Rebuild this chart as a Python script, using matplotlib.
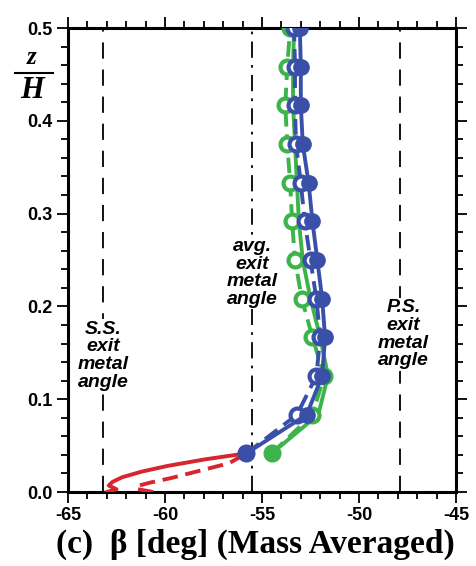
import matplotlib.pyplot as plt
from matplotlib.ticker import MultipleLocator

# span-wise stations z/H
z = [0.0417, 0.0833, 0.125, 0.1667, 0.2083, 0.25, 0.2917, 0.3333, 0.375, 0.4167, 0.4583, 0.5]

blue_solid = [-55.8, -52.7, -51.9, -51.75, -51.9, -52.15, -52.4, -52.6, -52.9, -53.0, -53.0, -53.05]
blue_dash = [-55.8, -53.2, -52.2, -52.0, -52.2, -52.5, -52.8, -53.0, -53.25, -53.3, -53.3, -53.35]
green_solid = [-54.5, -52.1, -51.6, -52.0, -52.5, -52.9, -53.1, -53.2, -53.3, -53.4, -53.4, -53.35]
green_dash = [-54.5, -52.4, -51.8, -52.4, -52.95, -53.3, -53.45, -53.55, -53.7, -53.8, -53.7, -53.55]

# hub region
red_z_solid = [0.0, 0.003, 0.007, 0.011, 0.016, 0.022, 0.028, 0.035, 0.0417]
red_solid = [-63.0, -62.5, -62.9, -62.7, -62.2, -61.2, -59.9, -58.0, -55.8]
red_z_dash = [0.0, 0.003, 0.006, 0.01, 0.015, 0.023, 0.031, 0.0417]
red_dash = [-60.6, -61.4, -61.5, -60.8, -59.7, -58.2, -56.7, -55.8]

ss_angle = -63.2
avg_angle = -55.5
ps_angle = -47.9

BLUE = "#3a4fa8"
GREEN = "#3cb44a"
RED = "#d7262e"

plt.rcParams["font.family"] = ["Liberation Sans", "DejaVu Sans"]
plt.rcParams["axes.unicode_minus"] = False
plt.rcParams["font.weight"] = "bold"

fig = plt.figure(figsize=(4.77, 5.66), dpi=100)
ax = fig.add_axes([0.1426, 0.1307, 0.8134, 0.8198])

lw = 2.8
# reference angle lines
ax.axvline(ss_angle, color="k", lw=1.3, dashes=(9, 6), zorder=1)
ax.axvline(avg_angle, color="k", lw=1.3, dashes=(9, 4, 1.5, 4), zorder=1)
ax.axvline(ps_angle, color="k", lw=1.3, dashes=(9, 6), zorder=1)

tkw = dict(ha="center", va="center", fontsize=14, fontweight="bold", style="italic",
           linespacing=1.05, zorder=2,
           bbox=dict(facecolor="white", edgecolor="none", pad=1))
ax.text(ss_angle, 0.147, "S.S.\nexit\nmetal\nangle", **tkw)
ax.text(avg_angle, 0.236, "avg.\nexit\nmetal\nangle", **tkw)
ax.text(ps_angle + 0.2, 0.17, "P.S.\nexit\nmetal\nangle", **tkw)

ax.plot(red_solid, red_z_solid, color=RED, lw=lw, zorder=3)
ax.plot(red_dash, red_z_dash, color=RED, lw=lw, dashes=(4, 2), zorder=3)

ax.plot(green_solid, z, color=GREEN, lw=lw, zorder=4)
ax.plot(green_dash, z, color=GREEN, lw=lw, dashes=(4, 2), marker="o", ms=10,
        mfc="white", mec=GREEN, mew=3, zorder=4)
ax.plot(blue_dash, z, color=BLUE, lw=lw, dashes=(4, 2), marker="o", ms=10,
        mfc="white", mec=BLUE, mew=3, zorder=5)
ax.plot(blue_solid, z, color=BLUE, lw=lw, marker="o", ms=11,
        mfc=BLUE, mec=BLUE, zorder=6)
ax.plot(green_solid[0], z[0], "o", ms=11, color=GREEN, zorder=6)
ax.plot(blue_solid[0], z[0], "o", ms=11, color=BLUE, zorder=7)

ax.set_xlim(-65, -45)
ax.set_ylim(0, 0.5)
ax.xaxis.set_major_locator(MultipleLocator(5))
ax.xaxis.set_minor_locator(MultipleLocator(1))
ax.yaxis.set_major_locator(MultipleLocator(0.1))
ax.yaxis.set_minor_locator(MultipleLocator(0.02))
ax.yaxis.set_major_formatter(plt.FormatStrFormatter("%.1f"))
ax.tick_params(which="both", direction="out", top=True, right=True, width=1.3)
ax.tick_params(which="major", length=8, labelsize=13, pad=3)
ax.tick_params(which="minor", length=5)
for sp in ax.spines.values():
    sp.set_linewidth(2.2)

ax.set_xlabel("(c)  \u03b2 [deg] (Mass Averaged)", family="Liberation Serif",
              fontsize=24, fontweight="bold")
ax.xaxis.set_label_coords(0.482, -0.08)

# z/H label
fig.text(32 / 477, 1 - 57 / 566, "z", family="Liberation Serif", fontsize=18,
         fontweight="bold", style="italic", ha="center", va="center")
fig.add_artist(plt.Line2D([15 / 477, 53 / 477], [1 - 73 / 566, 1 - 73 / 566],
                          color="k", lw=1.5))
fig.text(32 / 477, 1 - 91 / 566, "H", family="Liberation Serif", fontsize=22,
         fontweight="bold", style="italic", ha="center", va="center")

fig.savefig("out.png", dpi=100)
